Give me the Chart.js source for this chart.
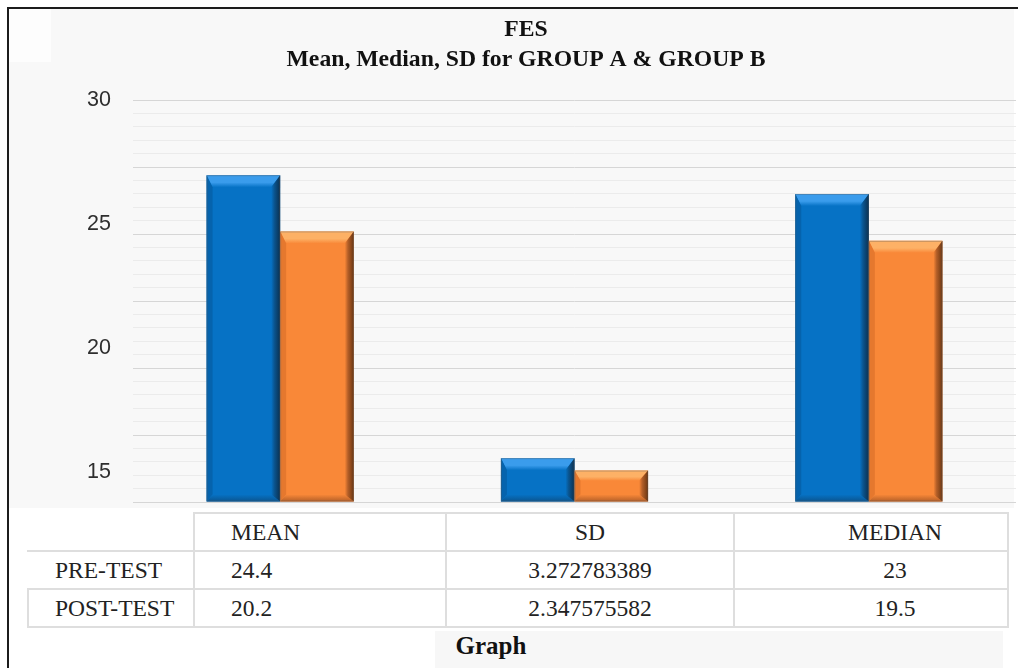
<!DOCTYPE html>
<html>
<head>
<meta charset="utf-8">
<title>FES – Mean, Median, SD for GROUP A &amp; GROUP B</title>
<script src="https://cdn.jsdelivr.net/npm/chart.js@4.4.1/dist/chart.umd.min.js"></script>
<style>
  html, body { margin: 0; padding: 0; background: #ffffff; }
  body { width: 1018px; height: 668px; position: relative; overflow: hidden; }
  #frame {
    position: absolute; left: 7px; top: 7px; width: 1011px; height: 661px;
    border-top: 2px solid #1c1c1c; border-left: 2px solid #1c1c1c;
    background: #ffffff; box-sizing: border-box;
  }
  #plotBg { position: absolute; left: 9px; top: 9px; width: 1005px; height: 499px; background: #f8f8f8; }
  #corner { position: absolute; left: 9px; top: 9px; width: 42px; height: 53px; background: #fdfdfd; }
  #captionBg { position: absolute; left: 435px; top: 631px; width: 568px; height: 37px; background: #f7f7f7; }
  #chartBox { position: absolute; left: 0; top: 0; width: 1018px; height: 510px; }
  #stats {
    position: absolute; left: 27px; top: 512px; width: 980px;
    border-collapse: collapse; table-layout: fixed; background: #ffffff;
  }
  #stats td {
    font-family: 'Liberation Serif', 'Times New Roman', serif; font-size: 23.5px; color: #222;
    border: 2px solid #dedede; padding: 0; height: 36px; line-height: 36px; white-space: nowrap;
  }
  #stats td.rowhead { padding-left: 26px; }
  #stats td.c0 { padding-left: 36px; text-align: left; }
  #stats td.c1 { text-align: center; }
  #stats td.c2 { text-align: center; padding-left: 48px; }
  #stats tr.head td.blank { border-top-color: transparent; border-left-color: transparent; }
  #stats tr.pre td.rowhead { border-left-color: transparent; }
  #caption {
    position: absolute; left: 391px; top: 631px; width: 200px; text-align: center;
    font-family: 'Liberation Serif', 'Times New Roman', serif; font-weight: bold; font-size: 25px;
    line-height: 30px; color: #111;
  }
</style>
</head>
<body>
<div id="frame"></div>
<div id="plotBg"></div>
<div id="corner"></div>
<div id="captionBg"></div>
<div id="chartBox"><canvas id="chart" width="1018" height="510"></canvas></div>
<table id="stats"></table>
<div id="caption">Graph</div>

<script>
// Statistics of the FES score for the two test rounds
const categories = ['MEAN', 'SD', 'MEDIAN'];
const preTest = [24.4, 3.272783389, 23];
const postTest = [20.2, 2.347575582, 19.5];
const seriesNames = ['PRE-TEST', 'POST-TEST'];
const titleLines = ['FES', 'Mean, Median, SD for GROUP A & GROUP B'];
// values printed down the left side of the plot
const sideAxisTicks = [15, 20, 25, 30];

const palette = {
  blue:   { face: '#0672c5', top: '#3a9cec', left: '#0563ad', right: '#0b304f', bottom: '#0a5590' },
  orange: { face: '#f98838', top: '#fdb166', left: '#e5782e', right: '#6a3612', bottom: '#b45f28' }
};

// Bevelled edges on every bar, drawn from each bar element's own geometry
const bevelPlugin = {
  id: 'bevel',
  afterDatasetsDraw(chart) {
    const ctx = chart.ctx;
    chart.data.datasets.forEach((ds, di) => {
      const meta = chart.getDatasetMeta(di);
      const col = ds.bevel;
      meta.data.forEach(bar => {
        const p = bar.getProps(['x', 'y', 'base', 'width'], true);
        const L = p.x - p.width / 2, R = p.x + p.width / 2;
        const T = Math.min(p.y, p.base), B = Math.max(p.y, p.base);
        const b = Math.min(12, (B - T) / 3);
        const bs = Math.min(7, (B - T) / 4);
        const side = 9;
        ctx.save();
        // top face
        let g = ctx.createLinearGradient(0, T, 0, T + b);
        g.addColorStop(0, col.top); g.addColorStop(0.6, col.top); g.addColorStop(1, col.face);
        ctx.fillStyle = g;
        ctx.beginPath(); ctx.moveTo(L, T); ctx.lineTo(R, T); ctx.lineTo(R - side, T + b); ctx.lineTo(L + 6, T + b); ctx.closePath(); ctx.fill();
        // left face
        ctx.fillStyle = col.left;
        ctx.beginPath(); ctx.moveTo(L, T); ctx.lineTo(L + 6, T + b); ctx.lineTo(L + 6, B - bs); ctx.lineTo(L, B); ctx.closePath(); ctx.fill();
        // bottom face
        g = ctx.createLinearGradient(0, B - bs, 0, B);
        g.addColorStop(0, col.face); g.addColorStop(1, col.bottom);
        ctx.fillStyle = g;
        ctx.beginPath(); ctx.moveTo(L, B); ctx.lineTo(L + 6, B - bs); ctx.lineTo(R - side, B - bs); ctx.lineTo(R, B); ctx.closePath(); ctx.fill();
        // right face
        g = ctx.createLinearGradient(R - side, 0, R, 0);
        g.addColorStop(0, col.face); g.addColorStop(0.35, col.bottom); g.addColorStop(1, col.right);
        ctx.fillStyle = g;
        ctx.beginPath(); ctx.moveTo(R, T); ctx.lineTo(R, B); ctx.lineTo(R - side, B - bs); ctx.lineTo(R - side, T + b); ctx.closePath(); ctx.fill();
        // thin outline
        ctx.strokeStyle = 'rgba(90,90,90,0.35)';
        ctx.lineWidth = 1;
        ctx.strokeRect(L + 0.5, T + 0.5, p.width - 1, B - T - 1);
        ctx.restore();
      });
    });
  }
};

function noScalePadding(scale) {
  scale.paddingTop = 0;
  scale.paddingBottom = 0;
}

new Chart(document.getElementById('chart'), {
  type: 'bar',
  data: {
    labels: categories,
    datasets: [
      { label: seriesNames[0], data: preTest, backgroundColor: palette.blue.face, bevel: palette.blue,
        borderWidth: 0, categoryPercentage: 0.5, barPercentage: 1.0, yAxisID: 'y' },
      { label: seriesNames[1], data: postTest, backgroundColor: palette.orange.face, bevel: palette.orange,
        borderWidth: 0, categoryPercentage: 0.5, barPercentage: 1.0, yAxisID: 'y' }
    ]
  },
  options: {
    responsive: false,
    animation: false,
    layout: { padding: { left: 36, right: 2, top: 0, bottom: 8 } },
    plugins: {
      legend: { display: false },
      tooltip: { enabled: false },
      title: {
        display: true,
        text: titleLines,
        color: '#111111',
        font: { family: "'Liberation Serif', 'Times New Roman', serif", size: 23.7, weight: 'bold', lineHeight: 1.27 },
        padding: { top: 15, bottom: 25 }
      }
    },
    scales: {
      x: { display: false },
      y: {
        position: 'left', weight: 0,
        min: 0, max: 30,
        border: { display: false },
        grid: {
          drawTicks: false,
          lineWidth: 1,
          color: c => (c.tick && c.tick.value % 5 === 0) ? '#d6d6d6' : '#ebebeb'
        },
        ticks: { display: false, stepSize: 1, autoSkip: false },
        afterFit(scale) { scale.width = 0; noScalePadding(scale); }
      },
      ySide: {
        type: 'linear', position: 'left', weight: 1,
        min: 13.79, max: 30,
        border: { display: false },
        grid: { display: false, drawTicks: false },
        afterBuildTicks(scale) { scale.ticks = sideAxisTicks.map(v => ({ value: v })); },
        ticks: {
          padding: 22,
          color: '#2e2e2e',
          font: { family: "'Liberation Sans', Arial, sans-serif", size: 21.5 }
        },
        afterFit(scale) { scale.width = 97; noScalePadding(scale); }
      }
    }
  },
  plugins: [bevelPlugin]
});

// Data table under the plot, built from the same arrays
(function buildTable() {
  const table = document.getElementById('stats');
  const colgroup = document.createElement('colgroup');
  [166, 252, 288, 274].forEach(w => { const c = document.createElement('col'); c.style.width = w + 'px'; colgroup.appendChild(c); });
  table.appendChild(colgroup);
  const head = document.createElement('tr');
  head.className = 'head';
  const blank = document.createElement('td'); blank.className = 'blank'; head.appendChild(blank);
  categories.forEach((c, i) => { const td = document.createElement('td'); td.className = 'c' + i; td.textContent = c; head.appendChild(td); });
  table.appendChild(head);
  [[seriesNames[0], preTest, 'pre'], [seriesNames[1], postTest, 'post']].forEach(([name, vals, cls]) => {
    const tr = document.createElement('tr'); tr.className = cls;
    const th = document.createElement('td'); th.className = 'rowhead'; th.textContent = name; tr.appendChild(th);
    vals.forEach((v, i) => { const td = document.createElement('td'); td.className = 'c' + i; td.textContent = String(v); tr.appendChild(td); });
    table.appendChild(tr);
  });
})();
</script>
</body>
</html>
